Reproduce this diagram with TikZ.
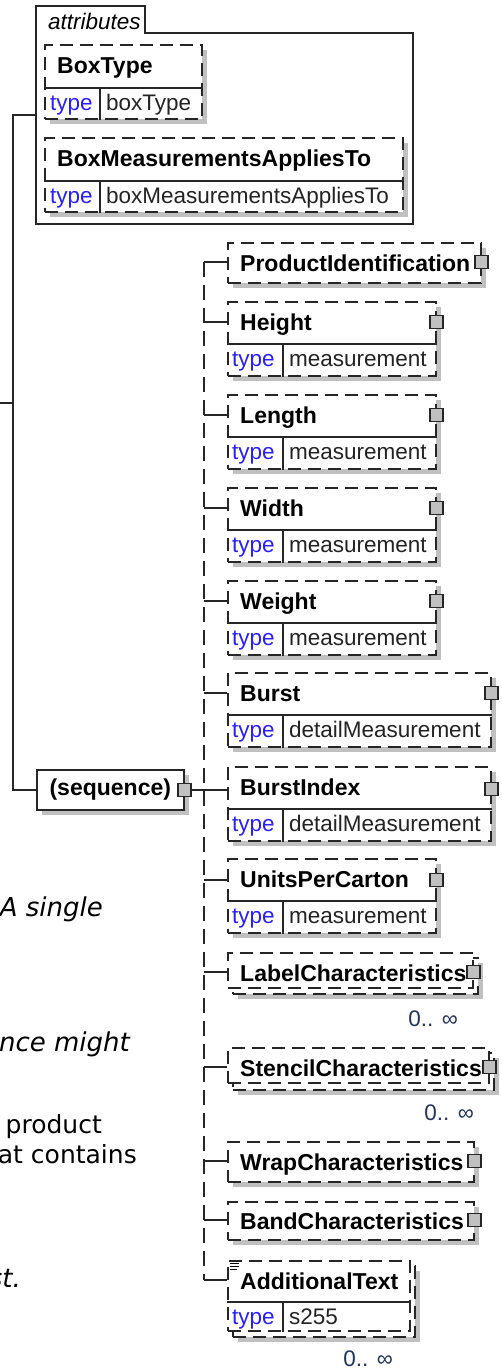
\documentclass[tikz,border=0pt]{standalone}
\usepackage{fontspec}
\setmainfont{Liberation Sans}
\newfontfamily\notefont{DejaVu Sans}
\usetikzlibrary{shadows,positioning}
\definecolor{shade}{RGB}{192,192,192}
\definecolor{typeblue}{RGB}{40,30,255}
\definecolor{valgray}{RGB}{35,35,35}
\definecolor{occblue}{RGB}{35,50,95}

\begin{document}
\begin{tikzpicture}[
        x=1pt, y=-1pt,
        font=\fontsize{22.5}{27}\selectfont,
        link/.style = {draw=black!85, line width=1.6pt},
        spineline/.style = {link, dash pattern=on 15pt off 8pt},
        elem/.style = {rectangle, draw=black!85, line width=1.6pt, dash pattern=on 13pt off 7pt, fill=white, anchor=north west, inner sep=0pt},
        shadowed/.style = {drop shadow={shadow xshift=5pt, shadow yshift=-5pt, fill=shade, opacity=1}},
        divider/.style = {draw=black!85, line width=1.6pt},
        title/.style = {anchor=base west, inner sep=0pt, font=\fontsize{23}{27}\selectfont\bfseries},
        typ/.style = {anchor=base west, inner sep=0pt, text=typeblue},
        val/.style = {anchor=base west, inner sep=0pt, text=valgray},
        more/.style = {rectangle, draw=black!85, line width=1.4pt, fill=shade, minimum size=13pt, inner sep=0pt},
        occurs/.style = {anchor=base east, inner sep=0pt, text=occblue},
        note/.style = {anchor=base east, inner sep=0pt, font=\notefont\fontsize{25}{30}\selectfont},
        noteit/.style = {note, font=\notefont\itshape\fontsize{26}{30}\selectfont}
    ]
    \useasboundingbox (0,0) rectangle (502,1369);

    % text of the page beside the diagram
    \node[noteit] (note1) at (103,916) {A single};
    \node[noteit] (note2) at (130,1051) {ance might};
    \node[note] (note3) at (102,1133) {product};
    \node[note] (note4) at (137,1163) {at contains};
    \node[noteit] (note5) at (21,1287) {st.};

    % attributes
    \draw[link, fill=white] (36,6) -| (145,33) -| (413,224) -| (36,6) -- cycle;
    \node[anchor=base west, inner sep=0pt, font=\fontsize{22.5}{27}\selectfont\itshape] (attrs-l) at (48,29) {attributes};
    \coordinate (attrs-in) at (36,115);

    \node[elem, shadowed, minimum width=157pt, minimum height=74pt] (boxtype) at (44,44) {};
    \draw[divider] ([yshift=-44pt]boxtype.north west) -- ([yshift=-44pt]boxtype.north east) ([shift={(56,44)}]boxtype.north west) -- ([xshift=56pt]boxtype.south west);
    \node[title] (boxtype-l) at ([shift={(13,29)}]boxtype.north west) {BoxType};
    \node[typ] (boxtype-k) at ([shift={(6,66)}]boxtype.north west) {type};
    \node[val] (boxtype-v) at ([shift={(62,66)}]boxtype.north west) {boxType};

    \node[elem, shadowed, minimum width=358pt, minimum height=74pt] (applies) at (44,137) {};
    \draw[divider] ([yshift=-44pt]applies.north west) -- ([yshift=-44pt]applies.north east) ([shift={(56,44)}]applies.north west) -- ([xshift=56pt]applies.south west);
    \node[title] (applies-l) at ([shift={(13,29)}]applies.north west) {BoxMeasurementsAppliesTo};
    \node[typ] (applies-k) at ([shift={(6,66)}]applies.north west) {type};
    \node[val] (applies-v) at ([shift={(62,66)}]applies.north west) {boxMeasurementsAppliesTo};

    % sequence
    \coordinate (parent) at (0,403);
    \coordinate (fork) at (13,403);
    \node[elem, shadowed, solid, anchor=north west, minimum width=147pt, minimum height=40pt, font=\fontsize{23}{27}\selectfont\bfseries] (seq) at (36,769) {(sequence)};
    \draw[link] (parent) -- (fork);
    \draw[link] (attrs-in) -| (fork) |- (seq.west);
    \coordinate (spine) at (204,262);

    % children
    \node[elem, shadowed, minimum width=253pt, minimum height=40pt] (productid) at (227,242) {};
    \node[title] (productid-l) at ([shift={(13,29)}]productid.north west) {ProductIdentification};
    \node[more] (productid-m) at ([yshift=-20pt]productid.north east) {};

    \node[elem, shadowed, minimum width=208pt, minimum height=74pt] (height) at (227,301) {};
    \draw[divider] ([yshift=-43pt]height.north west) -- ([yshift=-43pt]height.north east) ([shift={(56,43)}]height.north west) -- ([xshift=56pt]height.south west);
    \node[title] (height-l) at ([shift={(13,29)}]height.north west) {Height};
    \node[typ] (height-k) at ([shift={(5,65)}]height.north west) {type};
    \node[val] (height-v) at ([shift={(62,65)}]height.north west) {measurement};
    \node[more] (height-m) at ([yshift=-21pt]height.north east) {};

    \node[elem, shadowed, minimum width=208pt, minimum height=74pt] (length) at (227,394) {};
    \draw[divider] ([yshift=-43pt]length.north west) -- ([yshift=-43pt]length.north east) ([shift={(56,43)}]length.north west) -- ([xshift=56pt]length.south west);
    \node[title] (length-l) at ([shift={(13,29)}]length.north west) {Length};
    \node[typ] (length-k) at ([shift={(5,65)}]length.north west) {type};
    \node[val] (length-v) at ([shift={(62,65)}]length.north west) {measurement};
    \node[more] (length-m) at ([yshift=-21pt]length.north east) {};

    \node[elem, shadowed, minimum width=208pt, minimum height=74pt] (width) at (227,487) {};
    \draw[divider] ([yshift=-43pt]width.north west) -- ([yshift=-43pt]width.north east) ([shift={(56,43)}]width.north west) -- ([xshift=56pt]width.south west);
    \node[title] (width-l) at ([shift={(13,29)}]width.north west) {Width};
    \node[typ] (width-k) at ([shift={(5,65)}]width.north west) {type};
    \node[val] (width-v) at ([shift={(62,65)}]width.north west) {measurement};
    \node[more] (width-m) at ([yshift=-21pt]width.north east) {};

    \node[elem, shadowed, minimum width=208pt, minimum height=74pt] (weight) at (227,580) {};
    \draw[divider] ([yshift=-43pt]weight.north west) -- ([yshift=-43pt]weight.north east) ([shift={(56,43)}]weight.north west) -- ([xshift=56pt]weight.south west);
    \node[title] (weight-l) at ([shift={(13,29)}]weight.north west) {Weight};
    \node[typ] (weight-k) at ([shift={(5,65)}]weight.north west) {type};
    \node[val] (weight-v) at ([shift={(62,65)}]weight.north west) {measurement};
    \node[more] (weight-m) at ([yshift=-21pt]weight.north east) {};

    \node[elem, shadowed, minimum width=263pt, minimum height=74pt] (burst) at (227,672) {};
    \draw[divider] ([yshift=-43pt]burst.north west) -- ([yshift=-43pt]burst.north east) ([shift={(56,43)}]burst.north west) -- ([xshift=56pt]burst.south west);
    \node[title] (burst-l) at ([shift={(13,29)}]burst.north west) {Burst};
    \node[typ] (burst-k) at ([shift={(5,65)}]burst.north west) {type};
    \node[val] (burst-v) at ([shift={(62,65)}]burst.north west) {detailMeasurement};
    \node[more] (burst-m) at ([yshift=-21pt]burst.north east) {};

    \node[elem, shadowed, minimum width=263pt, minimum height=74pt] (burstindex) at (227,766) {};
    \draw[divider] ([yshift=-43pt]burstindex.north west) -- ([yshift=-43pt]burstindex.north east) ([shift={(56,43)}]burstindex.north west) -- ([xshift=56pt]burstindex.south west);
    \node[title] (burstindex-l) at ([shift={(13,29)}]burstindex.north west) {BurstIndex};
    \node[typ] (burstindex-k) at ([shift={(5,65)}]burstindex.north west) {type};
    \node[val] (burstindex-v) at ([shift={(62,65)}]burstindex.north west) {detailMeasurement};
    \node[more] (burstindex-m) at ([yshift=-23pt]burstindex.north east) {};

    \node[elem, shadowed, minimum width=208pt, minimum height=74pt] (units) at (227,858) {};
    \draw[divider] ([yshift=-43pt]units.north west) -- ([yshift=-43pt]units.north east) ([shift={(56,43)}]units.north west) -- ([xshift=56pt]units.south west);
    \node[title] (units-l) at ([shift={(13,29)}]units.north west) {UnitsPerCarton};
    \node[typ] (units-k) at ([shift={(5,65)}]units.north west) {type};
    \node[val] (units-v) at ([shift={(62,65)}]units.north west) {measurement};
    \node[more] (units-m) at ([yshift=-22pt]units.north east) {};

    \node[elem, shadowed, minimum width=245pt, minimum height=36pt] (label-b) at (232,957) {};
    \node[elem, minimum width=245pt, minimum height=35pt] (label) at (227,952) {};
    \node[title] (label-l) at ([shift={(13,29)}]label.north west) {LabelCharacteristics};
    \node[more] (label-m) at ([yshift=-20pt]label.north east) {};
    \node[occurs] (label-o) at (458,1026) {0.. ∞};

    \node[elem, shadowed, minimum width=261pt, minimum height=37pt] (stencil-b) at (232,1052) {};
    \node[elem, minimum width=261pt, minimum height=35pt] (stencil) at (227,1047) {};
    \node[title] (stencil-l) at ([shift={(13,29)}]stencil.north west) {StencilCharacteristics};
    \node[more] (stencil-m) at ([yshift=-20pt]stencil.north east) {};
    \node[occurs] (stencil-o) at (474,1120) {0.. ∞};

    \node[elem, shadowed, minimum width=246pt, minimum height=40pt] (wrap) at (227,1141) {};
    \node[title] (wrap-l) at ([shift={(13,29)}]wrap.north west) {WrapCharacteristics};
    \node[more] (wrap-m) at ([yshift=-20pt]wrap.north east) {};

    \node[elem, shadowed, minimum width=246pt, minimum height=38pt] (band) at (227,1201) {};
    \node[title] (band-l) at ([shift={(13,28)}]band.north west) {BandCharacteristics};
    \node[more] (band-m) at ([yshift=-19pt]band.north east) {};

    \node[elem, shadowed, minimum width=182pt, minimum height=71pt] (addtext-b) at (232,1265) {};
    \node[elem, minimum width=182pt, minimum height=70pt] (addtext) at (227,1260) {};
    \draw[divider] ([yshift=-42pt]addtext.north west) -- ([yshift=-42pt]addtext.north east) ([shift={(56,42)}]addtext.north west) -- ([xshift=56pt]addtext.south west);
    \draw[line width=0.8pt] ([shift={(3,3)}]addtext.north west) -- ++(9,0) ([shift={(3,6)}]addtext.north west) -- ++(9,0) ([shift={(3,9)}]addtext.north west) -- ++(7,0);
    \node[title] (addtext-l) at ([shift={(13,29)}]addtext.north west) {AdditionalText};
    \node[typ] (addtext-k) at ([shift={(5,64)}]addtext.north west) {type};
    \node[val] (addtext-v) at ([shift={(62,64)}]addtext.north west) {s255};
    \coordinate (addtext-in) at ([yshift=-20pt]addtext.north west);
    \node[occurs] (addtext-o) at (393,1366) {0.. ∞};

    % connectors
    \node[more] (seq-m) at (seq.east) {};
    \draw[link] (seq-m.east) -- (burstindex.west |- seq-m);
    \draw[spineline] (spine) -- (spine |- addtext-in);
    \draw[link] (spine |- productid-m) -- (productid.west |- productid-m);
    \draw[link] (spine |- height-m) -- (height.west |- height-m);
    \draw[link] (spine |- length-m) -- (length.west |- length-m);
    \draw[link] (spine |- width-m) -- (width.west |- width-m);
    \draw[link] (spine |- weight-m) -- (weight.west |- weight-m);
    \draw[link] (spine |- burst-m) -- (burst.west |- burst-m);
    \draw[link] (spine |- units-m) -- (units.west |- units-m);
    \draw[link] (spine |- label-m) -- (label.west |- label-m);
    \draw[link] (spine |- stencil-m) -- (stencil.west |- stencil-m);
    \draw[link] (spine |- wrap-m) -- (wrap.west |- wrap-m);
    \draw[link] (spine |- band-m) -- (band.west |- band-m);
    \draw[link] (spine |- addtext-in) -- (addtext-in);
\end{tikzpicture}
\end{document}
